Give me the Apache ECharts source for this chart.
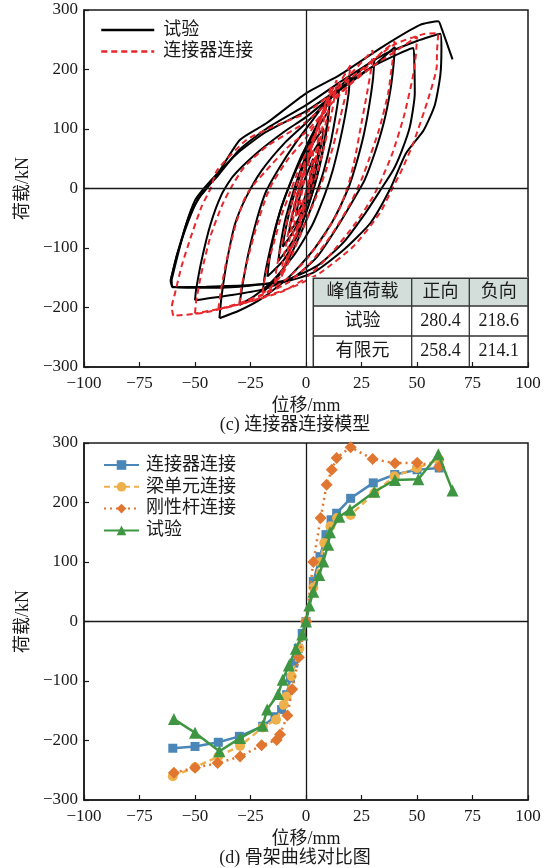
<!DOCTYPE html>
<html><head><meta charset="utf-8">
<script src="https://cdn.jsdelivr.net/npm/echarts@6/dist/echarts.min.js"></script>
<style>html,body{margin:0;padding:0;background:#fff}#c{width:550px;height:868px}</style>
</head><body><div id="c"></div>
<script>
// ---------- data ----------
const xTicks = [-100, -75, -50, -25, 0, 25, 50, 75, 100];
const yTicks = [-300, -200, -100, 0, 100, 200, 300];

// (c) hysteresis loops, test (试验)
const testLoops = [
  [[-4.6,-46],[-3.5,-25],[-1.5,5],[1,30],[3.3,50],[2.8,35],[1.5,12],[-0.5,-15],[-2.5,-32],[-4.6,-46]],
  [[-7.7,-74],[-6.5,-50],[-4.5,-20],[-2,15],[1.5,50],[6,78],[5.5,60],[4,35],[2,5],[-1,-30],[-4,-55],[-7.7,-74]],
  [[-10.5,-98],[-9.5,-75],[-7.5,-40],[-4.5,0],[-1,40],[3,75],[7.8,101],[7.2,80],[5.5,50],[3.5,15],[0.5,-25],[-3,-55],[-7,-80],[-10.5,-98]],
  [[-12.5,-122],[-11.5,-95],[-9.5,-55],[-6.5,-15],[-3,25],[1,65],[5,100],[10,129],[9.5,105],[8,70],[6,35],[3.5,0],[0,-40],[-4,-75],[-8,-100],[-12.5,-122]],
  [[-17.4,-148],[-16.5,-120],[-14.5,-80],[-11,-30],[-7,10],[-2,55],[4,100],[10.8,150],[10.2,125],[9,95],[7,55],[4.5,15],[1,-30],[-4,-80],[-10,-120],[-17.4,-148]],
  [[-19.5,-175],[-18.5,-145],[-16,-100],[-13,-55],[-9,-10],[-4,35],[2,80],[8,130],[15,176],[14.5,150],[13,115],[11,75],[8,30],[4.5,-10],[0,-55],[-6,-105],[-12,-145],[-19.5,-175]],
  [[-30,-196],[-28.5,-160],[-26,-110],[-22,-50],[-18,-5],[-12,35],[-5,75],[3,115],[11,155],[19.8,188],[19.2,160],[17.5,120],[15,75],[12,30],[8.5,-10],[3,-60],[-5,-110],[-15,-155],[-23,-180],[-30,-196]],
  [[-39,-218],[-38,-180],[-35.5,-120],[-32,-60],[-27,-15],[-20,30],[-10,75],[0,110],[12,155],[22,190],[30.8,218],[30.2,185],[28.5,140],[26,90],[22.5,40],[19,0],[12,-55],[3,-105],[-8,-150],[-20,-185],[-30,-205],[-39,-218]],
  [[-50,-188],[-49.5,-170],[-47,-120],[-43,-60],[-38,-10],[-33,20],[-22,60],[-10,95],[0,120],[15,165],[30,205],[40,238],[39.5,210],[38,165],[35,110],[31,60],[26.5,15],[22,-15],[14,-65],[5,-115],[-5,-148],[-20,-170],[-35,-180],[-50,-188]],
  [[-60.5,-153],[-58,-115],[-54,-60],[-50,-20],[-46,0],[-40,25],[-30,62],[-18,95],[0,130],[15,168],[30,205],[48.3,236],[48.8,210],[49,160],[46.8,104],[43,62],[39.3,31],[34,0],[27,-40],[17,-90],[5,-130],[-10,-155],[-30,-165],[-50,-167],[-60,-165],[-60.5,-153]],
  [[-61,-155],[-58,-110],[-53,-55],[-49,-20],[-45,0],[-40,20],[-30,65],[-18,100],[0,140],[15,178],[35,225],[50,248],[60.5,260],[61,235],[60.5,190],[58,140],[53,98],[45,59],[38,0],[29,-58],[17,-103],[3,-142],[-10,-157],[-25,-162],[-45,-165],[-60,-166],[-61,-155]],
  [[-61,-155],[-58,-110],[-53,-50],[-48,-15],[-44.7,0],[-38.7,31],[-29.7,82],[-17.7,110],[0,160],[15.3,191],[34.8,239],[51.4,275],[59.6,281],[61,270],[66,217]]
];

// (c) hysteresis loops, FE connector model (连接器连接)
const feLoops = [
  [[-3.5,-45],[-2.5,-20],[-1,10],[1,40],[3.3,67],[3,50],[1.5,20],[0,-5],[-2,-30],[-3.5,-45]],
  [[-6,-80],[-5,-55],[-3.5,-20],[-1.5,15],[1,50],[3.5,80],[6.3,109],[5.8,90],[4.5,60],[2.5,25],[0.5,-10],[-2,-40],[-4,-65],[-6,-80]],
  [[-8.7,-123],[-8,-100],[-6.5,-65],[-4.5,-25],[-2,15],[1,50],[5,100],[9,146],[8.5,125],[7,95],[5,60],[2.5,20],[0,-15],[-3,-55],[-6,-95],[-8.7,-123]],
  [[-11,-148],[-10.5,-125],[-9,-95],[-7,-55],[-4.5,-15],[-1.5,25],[2,65],[6,110],[11.3,171],[10.8,150],[9.5,120],[7.5,85],[5,45],[2,5],[-1,-35],[-5,-80],[-8.5,-120],[-11,-148]],
  [[-14,-160],[-13.5,-140],[-12,-110],[-9.5,-70],[-6.5,-25],[-3.5,15],[0,50],[5,100],[9,140],[13.8,182],[13.3,165],[12,135],[10,100],[7.5,60],[4.5,20],[1,-20],[-3,-65],[-7,-105],[-11,-140],[-14,-160]],
  [[-19.5,-176],[-19,-160],[-17,-125],[-14,-85],[-11,-45],[-7,-5],[-3,35],[2,75],[8,125],[14,170],[20,207],[19.5,190],[18,160],[15.5,120],[12.5,75],[9,30],[5,-10],[0,-55],[-5,-100],[-10,-140],[-15,-163],[-19.5,-176]],
  [[-30,-193],[-29,-165],[-26,-115],[-22,-60],[-18,-15],[-15,10],[-8,50],[0,85],[8,130],[16,175],[22,200],[30,232],[29.5,205],[27,150],[24.5,100],[22,50],[19,5],[15,-35],[8,-80],[0,-120],[-8,-150],[-18,-175],[-30,-193]],
  [[-39.5,-203],[-38.5,-175],[-36,-125],[-32,-65],[-28,-20],[-25,0],[-18,30],[-8,70],[0,95],[12,145],[25,195],[33,225],[40,247],[39,215],[37,160],[33,100],[28,45],[25,15],[20,-25],[12,-75],[2,-125],[-8,-158],[-20,-180],[-30,-193],[-39.5,-203]],
  [[-50,-210],[-49.5,-190],[-47,-140],[-43,-80],[-38,-30],[-34,0],[-28,35],[-18,70],[-5,100],[0,112],[15,160],[30,205],[42,235],[50,255],[49.5,225],[48,185],[44,120],[39,60],[34,15],[30,-15],[22,-60],[10,-115],[0,-150],[-10,-172],[-25,-190],[-40,-203],[-50,-210]],
  [[-59.8,-214],[-60.5,-200],[-59,-176],[-56,-130],[-52,-83],[-47,-30],[-43,0],[-40,31],[-26.7,82],[-14.7,104],[0,127],[18.3,180],[39.3,241],[52.9,259.5],[59.6,261],[59,230],[58.9,205],[55,150],[48.3,76],[43,30],[39.3,3],[33.3,-41],[21.3,-97.5],[6.3,-142],[-5.7,-165],[-28.2,-193],[-46.3,-209],[-59.8,-214]]
];

// peak-load table
const tableHeader = ['峰值荷载', '正向', '负向'];
const tableRows = [['试验', '280.4', '218.6'], ['有限元', '258.4', '214.1']];

// (d) skeleton curves
const skelConnector = [[-60,-213],[-50,-210],[-39.5,-203],[-30,-193],[-19.5,-176],[-14,-160],[-11,-148],[-8.7,-123],[-7,-95],[-5.5,-70],[-3.5,-45],[-1.7,-20],[0,0],[3.3,67],[6.3,109],[9,146],[11.3,171],[13.8,182],[20.1,207],[30.3,233],[40,247],[50,255],[60,258]];
const skelBeam = [[-60,-260],[-50,-245],[-39.5,-227],[-29.7,-209],[-19.5,-178],[-13.5,-165],[-10,-140],[-8.8,-126],[-6.5,-92],[-3,-45],[0,0],[3.3,57],[6.3,100],[8.2,132],[11,160],[14,174],[20.1,179],[30.8,216],[39.8,244],[50,258],[60,272]];
const skelRigid = [[-59.5,-254],[-50,-246],[-39.8,-238],[-29.7,-227],[-20,-208],[-13.2,-199],[-11.7,-190],[-8.4,-158],[-6.2,-114],[-3.2,-60],[0,0],[3.3,100],[6.6,174],[9.3,230],[11.6,255],[13.8,275],[20.1,293],[30,273],[40.1,266],[50.1,267],[60,260]];
const skelTest = [[-59.5,-164],[-50,-187],[-39,-218],[-29.7,-196],[-19.5,-175],[-17.5,-148],[-12.5,-122],[-10.5,-98],[-7.7,-74],[-4.6,-46],[-1.7,-22],[0,0],[1.5,27],[3.3,50],[6,78],[7.8,101],[10,129],[10.8,150],[15,176],[19.8,188],[30.8,218],[40.1,238],[50.6,239],[59.6,281],[66,220]];

const hystNames = ['试验', '连接器连接'];
const seriesNames = ['连接器连接', '梁单元连接', '刚性杆连接', '试验'];
const captions = ['(c) 连接器连接模型', '(d) 骨架曲线对比图'];

// ---------- chart ----------
const FONT = "'Liberation Serif','Noto Sans CJK SC',serif";
const INK = '#1a1a1a';
const fmt = v => (v < 0 ? '\u2212' + Math.abs(v) : String(v));
const TOP = ' '; // suffix that keeps the upper panel's legend names apart

function xAx(gi) {
  return {
    gridIndex: gi, type: 'value', min: xTicks[0], max: xTicks[xTicks.length - 1], interval: 25, z: 10,
    axisLine: { onZero: false, lineStyle: { color: INK, width: 1.5 } },
    axisTick: { inside: true, length: 5, lineStyle: { color: INK, width: 1.2 } },
    axisLabel: { formatter: fmt, fontSize: 17, color: INK, fontFamily: FONT, margin: 8 },
    splitLine: { show: false },
    name: '位移/mm', nameLocation: 'middle', nameGap: 30,
    nameTextStyle: { fontSize: 18, color: INK, fontFamily: FONT }
  };
}
function yAx(gi) {
  return {
    gridIndex: gi, type: 'value', min: yTicks[0], max: yTicks[yTicks.length - 1], interval: 100, z: 10,
    axisLine: { onZero: false, lineStyle: { color: INK, width: 1.5 } },
    axisTick: { inside: true, length: 5, lineStyle: { color: INK, width: 1.2 } },
    axisLabel: { formatter: fmt, fontSize: 17, color: INK, fontFamily: FONT, margin: 6 },
    splitLine: { show: false },
    name: '荷载/kN', nameLocation: 'middle', nameGap: 49, nameRotate: 90,
    nameTextStyle: { fontSize: 18, color: INK, fontFamily: FONT }
  };
}

const zeroLines = {
  silent: true, symbol: 'none', label: { show: false },
  lineStyle: { color: INK, width: 1.3, type: 'solid' },
  data: [{ xAxis: 0 }, { yAxis: 0 }]
};

const series = [];
testLoops.forEach((loop, i) => {
  series.push({
    type: 'line', name: hystNames[0] + TOP, xAxisIndex: 0, yAxisIndex: 0, data: loop,
    symbol: 'none', smooth: 0.2, silent: true, z: 2,
    lineStyle: { color: '#000', width: 2 }, itemStyle: { color: '#000' },
    markLine: i === 0 ? zeroLines : undefined
  });
});
feLoops.forEach(loop => {
  series.push({
    type: 'line', name: hystNames[1] + TOP, xAxisIndex: 0, yAxisIndex: 0, data: loop,
    symbol: 'none', smooth: 0.2, silent: true, z: 3,
    lineStyle: { color: '#e8262b', width: 2, type: [6, 4] }, itemStyle: { color: '#e8262b' }
  });
});

const skelDefs = [
  { data: skelConnector, color: '#4a87b8', symbol: 'rect', size: 9, type: 'solid' },
  { data: skelBeam, color: '#eeb04a', symbol: 'circle', size: 10, type: [6, 4] },
  { data: skelRigid, color: '#e0762f', symbol: 'diamond', size: 12, type: [2, 4] },
  { data: skelTest, color: '#3f9642', symbol: 'triangle', size: 12, type: 'solid' }
];
skelDefs.forEach((d, i) => {
  series.push({
    type: 'line', name: seriesNames[i], xAxisIndex: 1, yAxisIndex: 1, data: d.data,
    symbol: d.symbol, symbolSize: d.size, showAllSymbol: true, silent: true, z: 3 + i,
    lineStyle: { color: d.color, width: 2.5, type: d.type },
    itemStyle: { color: d.color },
    markLine: i === 0 ? zeroLines : undefined
  });
});

// table graphic
const TX = [313.3, 411.7, 469.3, 528], TY = [278.3, 306, 336, 367];
const graphic = [
  { type: 'rect', z: 6, shape: { x: 307, y: 277, width: 221, height: 90 }, style: { fill: '#fff' } },
  { type: 'rect', z: 7, shape: { x: TX[0], y: TY[0], width: TX[3] - TX[0], height: TY[1] - TY[0] }, style: { fill: '#d3dedb' } },
  { type: 'rect', z: 8, shape: { x: TX[0], y: TY[0], width: TX[3] - TX[0], height: TY[3] - TY[0] }, style: { fill: 'none', stroke: '#333', lineWidth: 1.5 } },
  { type: 'line', z: 8, shape: { x1: TX[1], y1: TY[0], x2: TX[1], y2: TY[3] }, style: { stroke: '#333', lineWidth: 1.3 } },
  { type: 'line', z: 8, shape: { x1: TX[2], y1: TY[0], x2: TX[2], y2: TY[3] }, style: { stroke: '#333', lineWidth: 1.3 } },
  { type: 'line', z: 8, shape: { x1: TX[0], y1: TY[1], x2: TX[3], y2: TY[1] }, style: { stroke: '#333', lineWidth: 1.3 } },
  { type: 'line', z: 8, shape: { x1: TX[0], y1: TY[2], x2: TX[3], y2: TY[2] }, style: { stroke: '#333', lineWidth: 1.3 } }
];
[tableHeader].concat(tableRows).forEach((row, r) => {
  row.forEach((txt, c) => {
    graphic.push({
      type: 'text', z: 9,
      x: (TX[c] + TX[c + 1]) / 2, y: (TY[r] + TY[r + 1]) / 2,
      style: { text: txt, fill: INK, font: '18px ' + FONT, align: 'center', verticalAlign: 'middle' }
    });
  });
});
captions.forEach((t, i) => {
  graphic.push({
    type: 'text', z: 9, x: 295, y: i === 0 ? 425 : 858,
    style: { text: t, fill: INK, font: '18px ' + FONT, align: 'center', verticalAlign: 'middle' }
  });
});

const chart = echarts.init(document.getElementById('c'), null, { renderer: 'canvas' });
chart.setOption({
  animation: false,
  backgroundColor: '#fff',
  grid: [
    { left: 84, top: 10, width: 444, height: 357, show: true, borderColor: INK, borderWidth: 1.5, containLabel: false },
    { left: 84, top: 443, width: 444, height: 357, show: true, borderColor: INK, borderWidth: 1.5, containLabel: false }
  ],
  xAxis: [xAx(0), xAx(1)],
  yAxis: [yAx(0), yAx(1)],
  legend: [
    {
      data: hystNames.map(n => n + TOP), formatter: n => n.trim(), orient: 'vertical', left: 100, top: 21, padding: 0,
      itemWidth: 53, itemHeight: 14, itemGap: 3.5, selectedMode: false,
      itemStyle: { color: 'rgba(0,0,0,0)', borderWidth: 0 },
      lineStyle: { width: 2.5 },
      textStyle: { fontSize: 18, color: INK, fontFamily: FONT, padding: [0, 0, 0, 4] }
    },
    {
      data: seriesNames, orient: 'vertical', left: 103, top: 456, padding: 0,
      itemWidth: 35, itemHeight: 12, itemGap: 3.8, selectedMode: false,
      textStyle: { fontSize: 18, color: INK, fontFamily: FONT, padding: [0, 0, 0, 2] }
    }
  ],
  graphic: graphic,
  series: series
});
</script></body></html>
